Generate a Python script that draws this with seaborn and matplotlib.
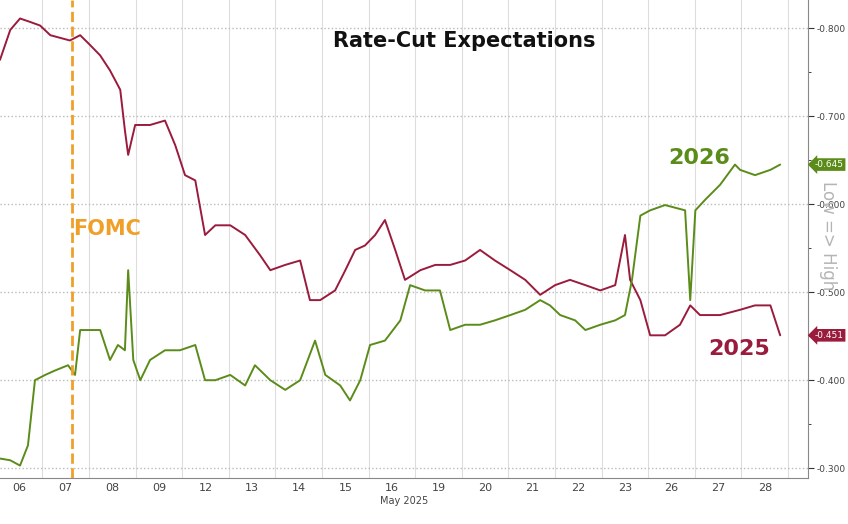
import numpy as np
import pandas as pd
import matplotlib
matplotlib.use("Agg")
import matplotlib.pyplot as plt
import seaborn as sns

# trading-day index (0 = May 06) and value
day_labels = ['06', '07', '08', '09', '12', '13', '14', '15', '16', '19', '20', '21', '22', '23', '26', '27', '28']

x_2025 = [-0.41, -0.19, 0.02, 0.24, 0.45, 0.67, 0.88, 1.09, 1.31, 1.52, 1.74, 1.95, 2.17, 2.27, 2.34, 2.49, 2.81,
          3.13, 3.35, 3.56, 3.78, 3.99, 4.21, 4.53, 4.85, 5.17, 5.39, 5.71, 6.03, 6.24, 6.46, 6.78, 7.00, 7.21,
          7.42, 7.64, 7.85, 8.07, 8.28, 8.61, 8.93, 9.25, 9.57, 9.89, 10.21, 10.54, 10.86, 11.18, 11.50, 11.82,
          12.15, 12.47, 12.79, 13.00, 13.11, 13.33, 13.54, 13.86, 14.18, 14.40, 14.61, 15.04, 15.47, 15.79,
          16.12, 16.33]
v_2025 = [-0.764, -0.798, -0.811, -0.807, -0.803, -0.792, -0.789, -0.786, -0.792, -0.781, -0.769, -0.752, -0.730,
          -0.684, -0.656, -0.690, -0.690, -0.695, -0.667, -0.633, -0.627, -0.565, -0.576, -0.576, -0.565, -0.542,
          -0.525, -0.531, -0.536, -0.491, -0.491, -0.502, -0.525, -0.548, -0.553, -0.565, -0.582, -0.548, -0.514,
          -0.525, -0.531, -0.531, -0.536, -0.548, -0.536, -0.525, -0.514, -0.497, -0.508, -0.514, -0.508, -0.502,
          -0.508, -0.565, -0.514, -0.491, -0.451, -0.451, -0.463, -0.485, -0.474, -0.474, -0.480, -0.485, -0.485,
          -0.451]

x_2026 = [-0.41, -0.19, 0.02, 0.19, 0.34, 0.56, 0.77, 1.05, 1.20, 1.31, 1.52, 1.74, 1.95, 2.12, 2.27, 2.34, 2.45,
          2.60, 2.81, 3.13, 3.45, 3.78, 3.99, 4.21, 4.53, 4.85, 5.06, 5.39, 5.71, 6.03, 6.35, 6.57, 6.89, 7.10,
          7.32, 7.53, 7.85, 8.18, 8.39, 8.71, 9.03, 9.25, 9.57, 9.89, 10.21, 10.54, 10.86, 11.18, 11.39, 11.61,
          11.93, 12.15, 12.47, 12.79, 13.00, 13.15, 13.33, 13.54, 13.86, 14.29, 14.40, 14.51, 14.72, 15.04,
          15.36, 15.47, 15.79, 16.12, 16.33]
v_2026 = [-0.311, -0.309, -0.303, -0.326, -0.400, -0.406, -0.411, -0.417, -0.406, -0.457, -0.457, -0.457, -0.423,
          -0.440, -0.434, -0.525, -0.423, -0.400, -0.423, -0.434, -0.434, -0.440, -0.400, -0.400, -0.406, -0.394,
          -0.417, -0.400, -0.389, -0.400, -0.445, -0.406, -0.394, -0.377, -0.400, -0.440, -0.445, -0.468, -0.508,
          -0.502, -0.502, -0.457, -0.463, -0.463, -0.468, -0.474, -0.480, -0.491, -0.485, -0.474, -0.468, -0.457,
          -0.463, -0.468, -0.474, -0.514, -0.587, -0.593, -0.599, -0.593, -0.491, -0.593, -0.605, -0.622, -0.645,
          -0.639, -0.633, -0.639, -0.645]

fomc_day = 1.14
red = '#9a1b3c'
green = '#5b8c1a'

df25 = pd.DataFrame({'day': x_2025, 'value': v_2025})
df26 = pd.DataFrame({'day': x_2026, 'value': v_2026})

sns.set_style('white')
fig = plt.figure(figsize=(8.48, 5.24), dpi=100)
ax = fig.add_axes([0.0, 0.088, 0.953, 0.912])

# Low => High label sits behind the tick labels, like the original
fig.text(0.977, 0.55, 'Low => High', rotation=270, fontsize=12, color='#b5b5b5', ha='center', va='center')

sns.lineplot(data=df25, x='day', y='value', color=red, linewidth=1.4, ax=ax)
sns.lineplot(data=df26, x='day', y='value', color=green, linewidth=1.4, ax=ax)
ax.axvline(fomc_day, color='#f0a028', linestyle='--', linewidth=2)

ax.set_xlim(-0.41, 16.93)
ax.set_ylim(-0.289, -0.832)
ax.set_xticks(range(len(day_labels)))
ax.set_xticklabels(day_labels, fontsize=8, color='#444444')
ax.set_xticks(np.arange(len(day_labels)) + 0.5, minor=True)
ax.grid(True, which='minor', axis='x', color='#dddddd', linewidth=0.8)
ax.tick_params(axis='x', which='both', length=0)
ax.yaxis.tick_right()
ax.set_yticks([-0.8, -0.7, -0.6, -0.5, -0.4, -0.3])
ax.set_yticklabels(['-0.800', '-0.700', '-0.600', '-0.500', '-0.400', '-0.300'], fontsize=6.5, color='#444444')
ax.set_yticks(np.arange(-0.75, -0.3, 0.1), minor=True)
ax.tick_params(axis='y', which='major', length=4, color='#333333', pad=2)
ax.tick_params(axis='y', which='minor', length=2)
ax.grid(True, which='major', axis='y', color='#bbbbbb', linestyle=':', linewidth=1)
ax.set_xlabel('May 2025', fontsize=7, color='#444444', labelpad=2)
ax.set_ylabel('')
for s in ['top', 'left']:
    ax.spines[s].set_visible(False)
ax.spines['right'].set_color('#888888')
ax.spines['bottom'].set_color('#888888')

ax.text(0.575, 0.915, 'Rate-Cut Expectations', transform=ax.transAxes, ha='center', va='center',
        fontsize=15, fontweight='bold', color='#111111')
ax.text(0.09, 0.52, 'FOMC', transform=ax.transAxes, ha='left', va='center',
        fontsize=15, fontweight='bold', color='#f0a028')
ax.text(14.6, -0.652, '2026', ha='center', va='center', fontsize=16, fontweight='bold', color=green)
ax.text(15.45, -0.435, '2025', ha='center', va='center', fontsize=16, fontweight='bold', color=red)

# last value tags on the right axis
ax.text(1.008, -0.645, '-0.645', transform=ax.get_yaxis_transform(), fontsize=6.5, color='white', va='center',
        bbox=dict(boxstyle='larrow,pad=0.2', fc=green, ec='none'))
ax.text(1.008, -0.451, '-0.451', transform=ax.get_yaxis_transform(), fontsize=6.5, color='white', va='center',
        bbox=dict(boxstyle='larrow,pad=0.2', fc=red, ec='none'))

fig.savefig('out.png', dpi=100)
